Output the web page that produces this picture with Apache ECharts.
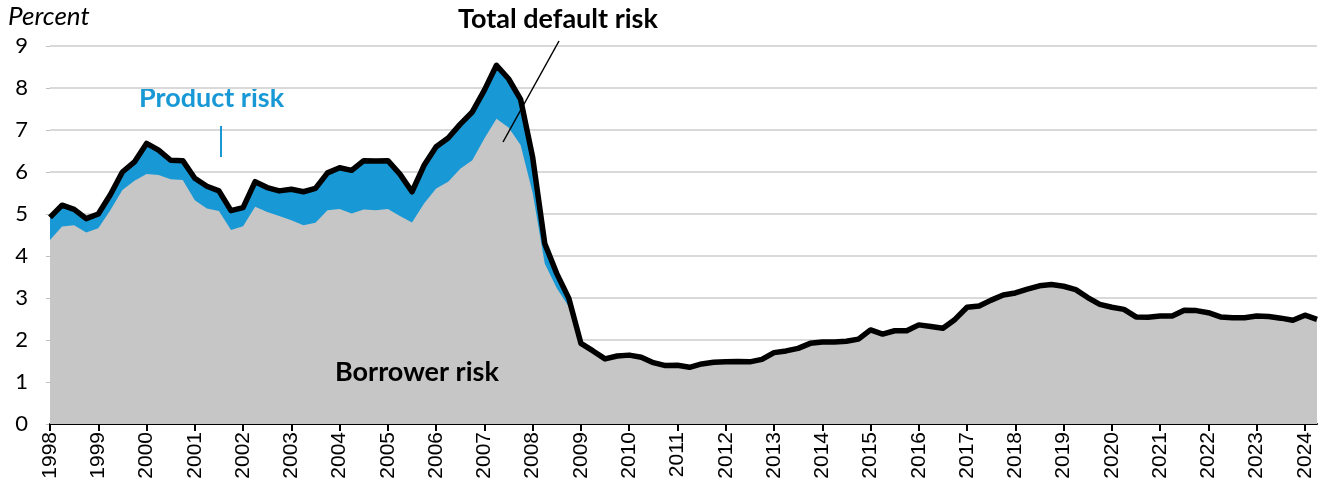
<!DOCTYPE html>
<html>
<head>
<meta charset="utf-8">
<script src="https://cdn.jsdelivr.net/npm/echarts@6/dist/echarts.min.js"></script>
<style>
  html, body { margin: 0; padding: 0; background: #fff; }
  #chart { width: 1323px; height: 487px; }
</style>
</head>
<body>
<div id="chart"></div>
<script>
// quarterly, 1998Q1 - 2024Q2
const years = ['1998','1999','2000','2001','2002','2003','2004','2005','2006','2007','2008','2009','2010',
  '2011','2012','2013','2014','2015','2016','2017','2018','2019','2020','2021','2022','2023','2024']
const quarters = []
years.forEach(y => { for (let q = 1; q <= 4; q++) quarters.push(y + ' Q' + q) })
quarters.length = 106

// total default risk (percent)
const total = [
  4.92, 5.21, 5.11, 4.89, 5.00, 5.46, 6.00, 6.24, 6.68, 6.52, 6.28, 6.27, 5.85, 5.66, 5.55, 5.08,
  5.15, 5.77, 5.63, 5.55, 5.59, 5.53, 5.61, 5.98, 6.10, 6.04, 6.27, 6.26, 6.27, 5.95, 5.53, 6.16,
  6.60, 6.81, 7.14, 7.43, 7.95, 8.54, 8.22, 7.73, 6.35, 4.30, 3.58, 2.99, 1.92, 1.74, 1.55, 1.62,
  1.64, 1.59, 1.46, 1.39, 1.40, 1.35, 1.43, 1.47, 1.48, 1.49, 1.48, 1.54, 1.70, 1.74, 1.80, 1.92,
  1.95, 1.95, 1.97, 2.02, 2.24, 2.14, 2.22, 2.22, 2.36, 2.32, 2.28, 2.49, 2.78, 2.81, 2.95, 3.07,
  3.12, 3.21, 3.29, 3.32, 3.28, 3.20, 3.01, 2.85, 2.78, 2.73, 2.55, 2.54, 2.57, 2.57, 2.71, 2.70,
  2.65, 2.55, 2.53, 2.53, 2.57, 2.56, 2.52, 2.47, 2.59, 2.49
]
// borrower risk up to 2009Q1, after that product risk is ~0 so it follows the total
const borrowerEarly = [
  4.38, 4.70, 4.73, 4.56, 4.66, 5.09, 5.57, 5.79, 5.95, 5.93, 5.83, 5.81, 5.33, 5.13, 5.07, 4.62,
  4.71, 5.17, 5.05, 4.95, 4.85, 4.73, 4.79, 5.09, 5.12, 5.01, 5.11, 5.09, 5.12, 4.95, 4.80, 5.25,
  5.61, 5.77, 6.08, 6.28, 6.80, 7.27, 7.06, 6.64, 5.50, 3.82, 3.23, 2.79, 1.92
]
const borrower = borrowerEarly.concat(total.slice(borrowerEarly.length))

const chart = echarts.init(document.getElementById('chart'))

const option = {
  animation: false,
  grid: { left: 50, right: 6, top: 46, bottom: 63 },
  xAxis: {
    type: 'category',
    data: quarters,
    boundaryGap: false,
    axisLine: { lineStyle: { color: '#000', width: 2 } },
    axisTick: { interval: 3, length: 7, lineStyle: { color: '#000', width: 2 } },
    axisLabel: {
      interval: 3,
      rotate: 90,
      margin: 8,
      fontFamily: 'Liberation Sans',
      fontSize: 21,
      color: '#000',
      formatter: v => v.slice(0, 4)
    },
    splitLine: { show: false }
  },
  yAxis: {
    type: 'value',
    min: 0,
    max: 9,
    interval: 1,
    axisLine: { show: false },
    axisTick: { show: true, length: 4, lineStyle: { color: '#bfbfbf', width: 1 } },
    axisLabel: { margin: 22, fontFamily: 'Lato', fontSize: 22, color: '#000' },
    splitLine: { lineStyle: { color: '#d9d9d9', width: 2 } }
  },
  series: [
    {
      name: 'Product risk',
      type: 'line',
      data: total,
      showSymbol: false,
      lineStyle: { width: 0 },
      areaStyle: { color: '#1899d5', opacity: 1 },
      z: 2
    },
    {
      name: 'Borrower risk',
      type: 'line',
      data: borrower,
      showSymbol: false,
      lineStyle: { width: 0 },
      areaStyle: { color: '#c6c6c6', opacity: 1 },
      z: 3
    },
    {
      name: 'Total default risk',
      type: 'line',
      data: total,
      showSymbol: false,
      lineStyle: { color: '#000', width: 5.5, join: 'round' },
      z: 4
    }
  ],
  graphic: [
    {
      type: 'text', left: 8, top: 4,
      style: { text: 'Percent', font: 'italic 26px Lato', fill: '#000' }
    },
    {
      type: 'text', left: 458, top: 6,
      style: { text: 'Total default risk', font: 'bold 27px Lato', fill: '#000' }
    },
    {
      type: 'line', z: 10,
      shape: { x1: 559, y1: 41, x2: 503, y2: 142 },
      style: { stroke: '#000', lineWidth: 1.5 }
    },
    {
      type: 'text', left: 139, top: 85,
      style: { text: 'Product risk', font: 'bold 27px Lato', fill: '#1899d5' }
    },
    {
      type: 'line', z: 10,
      shape: { x1: 221, y1: 126, x2: 221, y2: 157 },
      style: { stroke: '#1899d5', lineWidth: 2 }
    },
    {
      type: 'text', left: 335, top: 359, z: 10,
      style: { text: 'Borrower risk', font: 'bold 27px Lato', fill: '#000' }
    }
  ]
}

chart.setOption(option)
</script>
</body>
</html>
